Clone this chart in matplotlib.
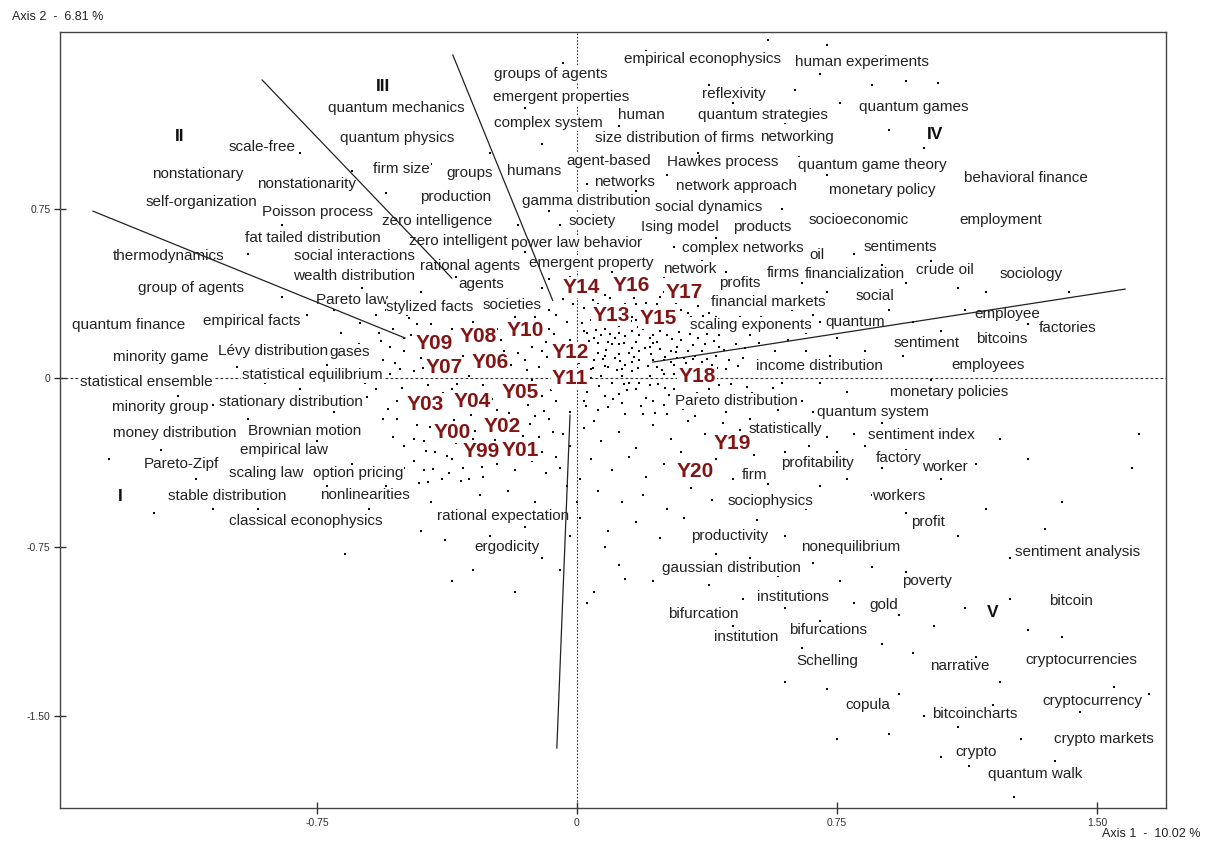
import matplotlib
matplotlib.use("Agg")
import matplotlib.pyplot as plt

# ── Correspondence analysis map: word labels (data coords) ────────────────────
words = [
    "empirical econophysics", "human experiments", "groups of agents", "reflexivity",
    "emergent properties", "quantum games", "human", "quantum strategies",
    "complex system", "size distribution of firms", "networking", "quantum mechanics",
    "quantum physics", "scale-free", "nonstationary", "nonstationarity",
    "self-organization", "Poisson process", "firm size", "groups", "humans",
    "agent-based", "Hawkes process", "quantum game theory", "behavioral finance",
    "networks", "network approach", "monetary policy", "production",
    "gamma distribution", "social dynamics", "zero intelligence", "society",
    "Ising model", "products", "socioeconomic", "employment",
    "fat tailed distribution", "zero intelligent", "power law behavior",
    "complex networks", "oil", "sentiments", "thermodynamics", "social interactions",
    "rational agents", "emergent property", "network", "firms", "financialization",
    "crude oil", "sociology", "wealth distribution", "group of agents", "agents",
    "profits", "Pareto law", "stylized facts", "societies", "financial markets",
    "social", "employee", "factories", "quantum", "bitcoins", "sentiment",
    "scaling exponents", "quantum finance", "empirical facts", "minority game",
    "Lévy distribution", "gases", "income distribution", "employees",
    "statistical ensemble", "statistical equilibrium", "monetary policies",
    "minority group", "stationary distribution", "Pareto distribution",
    "quantum system", "money distribution", "Brownian motion", "statistically",
    "sentiment index", "empirical law", "profitability", "factory", "worker",
    "Pareto-Zipf", "scaling law", "option pricing", "firm", "stable distribution",
    "nonlinearities", "sociophysics", "workers", "classical econophysics",
    "rational expectation", "profit", "productivity", "nonequilibrium",
    "sentiment analysis", "ergodicity", "gaussian distribution", "poverty",
    "institutions", "gold", "bitcoin", "bifurcation", "institution", "bifurcations",
    "Schelling", "narrative", "cryptocurrencies", "cryptocurrency", "copula",
    "bitcoincharts", "crypto markets", "crypto", "quantum walk",
]
word_x = [
    0.361, 0.822, -0.075, 0.453, -0.046, 0.972, 0.187, 0.536, -0.081, 0.283, 0.634,
    -0.522, -0.519, -0.908, -1.093, -0.779, -1.082, -0.747, -0.505, -0.309, -0.124,
    0.092, 0.421, 0.851, 1.295, 0.138, 0.461, 0.882, -0.349, 0.026, 0.381, -0.404,
    0.043, 0.297, 0.534, 0.813, 1.223, -0.761, -0.343, 0.000, 0.479, 0.692, 0.934,
    -1.177, -0.643, -0.309, 0.040, 0.326, 0.594, 0.802, 1.061, 1.309, -0.643, -1.113,
    -0.277, 0.470, -0.649, -0.424, -0.187, 0.551, 0.859, 1.240, 1.416, 0.802, 1.226,
    1.007, 0.502, -1.292, -0.937, -1.200, -0.877, -0.655, 0.698, 1.185, -1.243,
    -0.764, 1.073, -1.203, -0.825, 0.461, 0.854, -1.159, -0.784, 0.600, 0.992,
    -0.845, 0.695, 0.929, 1.061, -1.142, -0.897, -0.632, 0.513, -1.009, -0.611,
    0.557, 0.929, -0.782, -0.213, 1.012, 0.441, 0.790, 1.445, -0.202, 0.447, 1.009,
    0.623, 0.885, 1.425, 0.363, 0.487, 0.724, 0.721, 1.105, 1.456, 1.488, 0.839,
    1.148, 1.520, 1.151, 1.321,
]
word_y = [
    1.416, 1.403, 1.349, 1.261, 1.247, 1.203, 1.167, 1.167, 1.132, 1.065, 1.070,
    1.199, 1.065, 1.025, 0.906, 0.861, 0.781, 0.737, 0.928, 0.910, 0.919,
    0.963, 0.959, 0.946, 0.888, 0.870, 0.852, 0.835, 0.803, 0.786, 0.759, 0.697,
    0.697, 0.670, 0.670, 0.701, 0.701, 0.621, 0.608, 0.599, 0.577, 0.546, 0.582,
    0.542, 0.542, 0.497, 0.510, 0.484, 0.466, 0.462, 0.479, 0.462, 0.453, 0.400,
    0.417, 0.422, 0.346, 0.315, 0.324, 0.337, 0.364, 0.284, 0.222, 0.249, 0.173,
    0.155, 0.235, 0.235, 0.253, 0.093, 0.120, 0.115, 0.053, 0.058, -0.018,
    0.013, -0.062, -0.129, -0.107, -0.102, -0.151, -0.244, -0.235, -0.226, -0.253,
    -0.320, -0.377, -0.355, -0.395, -0.382, -0.422, -0.422, -0.431, -0.524, -0.519,
    -0.546, -0.524, -0.635, -0.613, -0.639, -0.701, -0.750, -0.772, -0.750, -0.843,
    -0.901, -0.972, -1.008, -0.990, -1.048, -1.150, -1.119, -1.256, -1.278, -1.252,
    -1.434, -1.452, -1.492, -1.602, -1.660, -1.758,
]

# year labels
years = ["Y14", "Y16", "Y17", "Y13", "Y15", "Y10", "Y08", "Y09", "Y12", "Y07", "Y06",
         "Y11", "Y05", "Y18", "Y03", "Y04", "Y02", "Y00", "Y99", "Y01", "Y19", "Y20"]
year_x = [0.012, 0.156, 0.309, 0.098, 0.234, -0.150, -0.286, -0.412, -0.020, -0.384,
          -0.251, -0.020, -0.164, 0.346, -0.438, -0.303, -0.216, -0.361, -0.277,
          -0.162, 0.447, 0.340]
year_y = [0.404, 0.413, 0.382, 0.280, 0.266, 0.213, 0.186, 0.155, 0.115, 0.049,
          0.067, -0.004, -0.062, 0.009, -0.115, -0.102, -0.213, -0.240, -0.328,
          -0.320, -0.289, -0.413]

# cluster numerals
clusters = ["I", "II", "III", "IV", "V"]
cluster_x = [-1.318, -1.145, -0.560, 1.032, 1.200]
cluster_y = [-0.524, 1.074, 1.292, 1.083, -1.039]

# boundary rays between clusters (x0, x1), (y0, y1)
ray_x = [(-1.396, -0.496), (-0.908, -0.361), (-0.358, -0.070), (0.219, 1.581), (-0.020, -0.058)]
ray_y = [(0.741, 0.178), (1.323, 0.444), (1.434, 0.345), (0.071, 0.395), (-0.164, -1.642)]

# background word cloud (approximate positions of the small dots)
dots = [
    # dense core right of origin
    (0.02, 0.31), (0.05, 0.18), (0.08, 0.37), (0.11, 0.09), (0.13, 0.24), (0.16, 0.03), (0.19, 0.29),
    (0.21, 0.14), (0.24, 0.36), (0.27, 0.07), (0.29, 0.25), (0.32, 0.12), (0.35, 0.32), (0.38, 0.02),
    (0.41, 0.19), (0.44, 0.08), (0.47, 0.27), (0.03, -0.06), (0.06, 0.11), (0.09, -0.13), (0.12, 0.20),
    (0.15, -0.02), (0.17, 0.16), (0.20, -0.09), (0.23, 0.05), (0.26, 0.19), (0.28, -0.05), (0.31, 0.03),
    (0.34, 0.21), (0.37, -0.08), (0.40, 0.10), (0.43, -0.15), (0.46, 0.15), (0.49, -0.04), (0.01, 0.13),
    (0.04, 0.26), (0.07, 0.01), (0.10, 0.15), (0.14, 0.33), (0.18, 0.08), (0.22, 0.27), (0.25, -0.12),
    (0.30, 0.17), (0.33, -0.11), (0.36, 0.07), (0.39, 0.24), (0.42, 0.31), (0.45, -0.07), (0.48, 0.09),
    (0.00, -0.02), (0.05, -0.19), (0.08, 0.22), (0.12, -0.07), (0.15, 0.11), (0.19, -0.16), (0.22, 0.19),
    (0.26, 0.30), (0.29, 0.09), (0.33, 0.27), (0.37, 0.15), (0.41, -0.03), (0.44, 0.22), (0.11, 0.28),
    (0.16, 0.21), (0.21, 0.01), (0.24, 0.13), (0.27, 0.23), (0.31, -0.02), (0.35, 0.04), (0.14, 0.06),
    (0.18, 0.12), (0.23, 0.33), (0.09, 0.05), (0.06, 0.33), (0.03, 0.09), (0.13, -0.11), (0.17, -0.05),
    (0.20, 0.23), (0.28, 0.02), (0.32, 0.35), (0.38, 0.29), (0.43, 0.04), (0.47, -0.12), (0.50, 0.19),
    (0.52, 0.05), (0.55, -0.09), (0.53, 0.27), (0.57, 0.12), (0.59, -0.02), (0.61, 0.17), (0.25, 0.38),
    (0.19, 0.37), (0.30, 0.38), (0.10, 0.40), (0.36, 0.37), (0.04, 0.04), (0.27, 0.12), (0.22, 0.08),
    (0.16, 0.27), (0.12, 0.15), (0.07, 0.19), (0.02, 0.21), (0.13, 0.01), (0.18, 0.19), (0.25, 0.08),
    (0.30, 0.30), (0.34, 0.10), (0.08, -0.08), (0.17, 0.33), (0.21, -0.03),
    (0.015, 0.245), (0.035, 0.165), (0.055, 0.285), (0.075, 0.085), (0.095, 0.195), (0.115, 0.035),
    (0.135, 0.155), (0.155, 0.255), (0.175, 0.045), (0.195, 0.135), (0.215, 0.235), (0.235, -0.025),
    (0.255, 0.095), (0.275, 0.175), (0.295, -0.085), (0.315, 0.065), (0.335, 0.145), (0.355, -0.035),
    (0.375, 0.085), (0.395, 0.165), (0.025, -0.125), (0.045, 0.045), (0.065, -0.035), (0.085, 0.125),
    (0.105, -0.095), (0.125, 0.075), (0.145, -0.055), (0.165, 0.095), (0.185, -0.125), (0.205, 0.055),
    (0.225, -0.155), (0.245, 0.035), (0.265, -0.075), (0.285, 0.115), (0.305, -0.135), (0.325, 0.025),
    (0.345, -0.065), (0.365, 0.235), (0.385, -0.125), (0.405, 0.045), (0.005, 0.065), (0.045, 0.345),
    (0.085, 0.275), (0.125, 0.315), (0.165, 0.355), (0.205, 0.305), (0.245, 0.265), (0.285, 0.335),
    (0.325, 0.195), (0.365, 0.275), (0.015, -0.045), (0.055, 0.215), (0.095, 0.355), (0.135, -0.025),
    (0.175, 0.225), (0.215, 0.105), (0.255, -0.045), (0.295, 0.205), (0.335, 0.085), (0.375, 0.195),
    (0.425, 0.125), (0.445, -0.025), (0.465, 0.055), (0.485, 0.135), (0.505, -0.065), (0.525, 0.155),
    (0.545, 0.035), (0.565, -0.045), (0.585, 0.075), (0.605, 0.025), (0.06, 0.155), (0.10, 0.245),
    (0.14, 0.185), (0.18, 0.285), (0.22, 0.155), (0.26, 0.225), (0.20, 0.335), (0.16, 0.135),
    (0.12, 0.105), (0.08, 0.055),
    (0.03, 0.20), (0.07, 0.29), (0.11, 0.18), (0.15, 0.30), (0.19, 0.22), (0.23, 0.16), (0.27, 0.28),
    (0.31, 0.09), (0.35, 0.18), (0.39, 0.06), (0.05, 0.08), (0.09, 0.16), (0.13, 0.04), (0.17, 0.26),
    (0.21, 0.18), (0.25, 0.02), (0.29, 0.14), (0.33, 0.22), (0.37, 0.03), (0.41, 0.14), (0.02, -0.10),
    (0.06, -0.14), (0.10, -0.02), (0.14, -0.16), (0.18, -0.02), (0.22, -0.10), (0.26, -0.16),
    (0.30, -0.08), (0.34, -0.17), (0.38, -0.05), (0.04, 0.00), (0.08, 0.10), (0.12, 0.23), (0.16, 0.07),
    (0.20, 0.28), (0.24, 0.21), (0.28, 0.06), (0.32, 0.29), (0.36, 0.12), (0.40, 0.27),
    # below the core
    (0.02, -0.22), (0.07, -0.28), (0.12, -0.24), (0.17, -0.31), (0.22, -0.21), (0.27, -0.27), (0.32, -0.19),
    (0.37, -0.25), (0.42, -0.20), (0.47, -0.23), (0.04, -0.36), (0.10, -0.41), (0.15, -0.35), (0.20, -0.44),
    (0.25, -0.38), (0.30, -0.33), (0.35, -0.42), (0.40, -0.36), (0.45, -0.45), (0.51, -0.34), (0.06, -0.50),
    (0.13, -0.55), (0.19, -0.52), (0.26, -0.58), (0.33, -0.49), (0.39, -0.54), (0.47, -0.52), (0.55, -0.47),
    (0.60, -0.33), (0.58, -0.14), (0.01, -0.62), (0.09, -0.68), (0.17, -0.64), (0.24, -0.71), (0.31, -0.62),
    (0.37, -0.67), (0.52, -0.63), (0.60, -0.70), (0.66, -0.58), (0.70, -0.48),
    # left cluster behind the year labels
    (-0.06, 0.28), (-0.09, 0.16), (-0.12, 0.31), (-0.15, 0.08), (-0.18, 0.27), (-0.21, 0.12), (-0.24, 0.30),
    (-0.27, 0.05), (-0.30, 0.25), (-0.33, 0.10), (-0.36, 0.22), (-0.39, 0.02), (-0.42, 0.24), (-0.45, 0.09),
    (-0.48, 0.19), (-0.51, 0.04), (-0.54, 0.14), (-0.07, 0.02), (-0.10, -0.08), (-0.13, 0.14), (-0.16, -0.03),
    (-0.19, 0.20), (-0.22, -0.06), (-0.25, 0.15), (-0.28, -0.12), (-0.31, 0.01), (-0.34, -0.09), (-0.37, 0.12),
    (-0.40, -0.16), (-0.43, -0.03), (-0.46, -0.21), (-0.49, -0.08), (-0.52, -0.18), (-0.08, -0.18),
    (-0.11, -0.26), (-0.14, -0.12), (-0.17, -0.22), (-0.20, -0.30), (-0.23, -0.14), (-0.26, -0.24),
    (-0.29, -0.35), (-0.32, -0.20), (-0.35, -0.29), (-0.38, -0.25), (-0.41, -0.33), (-0.44, -0.28),
    (-0.47, -0.37), (-0.50, -0.30), (-0.53, -0.26), (-0.06, -0.35), (-0.09, -0.42), (-0.13, -0.37),
    (-0.18, -0.41), (-0.23, -0.38), (-0.27, -0.44), (-0.33, -0.40), (-0.39, -0.45), (-0.44, -0.41),
    (-0.05, 0.12), (-0.08, 0.22), (-0.11, 0.05), (-0.14, 0.21), (-0.17, 0.11), (-0.20, 0.03), (-0.23, 0.22),
    (-0.26, 0.10), (-0.29, 0.17), (-0.32, 0.29), (-0.35, 0.05), (-0.38, 0.18), (-0.41, 0.07), (-0.44, 0.16),
    (-0.47, 0.03), (-0.50, 0.12), (-0.53, 0.22), (-0.56, 0.08), (-0.58, -0.05), (-0.57, 0.20), (-0.60, 0.12),
    (-0.62, 0.02), (-0.06, -0.10), (-0.12, -0.17), (-0.15, -0.30), (-0.21, -0.20), (-0.24, 0.06),
    (-0.27, -0.03), (-0.36, -0.05), (-0.30, -0.08), (-0.42, -0.10), (-0.48, -0.14),
    (-0.065, 0.195), (-0.085, 0.095), (-0.105, 0.255), (-0.125, -0.045), (-0.145, 0.035), (-0.165, 0.175),
    (-0.185, -0.085), (-0.205, 0.245), (-0.225, 0.085), (-0.245, -0.095), (-0.265, 0.205), (-0.285, 0.025),
    (-0.305, -0.165), (-0.325, 0.145), (-0.345, -0.025), (-0.365, 0.285), (-0.385, -0.065), (-0.405, 0.115),
    (-0.425, -0.215), (-0.445, 0.045), (-0.465, -0.115), (-0.485, 0.265), (-0.505, -0.045), (-0.525, 0.065),
    (-0.545, -0.135), (-0.565, 0.165), (-0.585, 0.035), (-0.605, -0.085), (-0.625, 0.245), (-0.645, 0.085),
    (-0.075, -0.055), (-0.095, -0.145), (-0.115, -0.325), (-0.135, -0.205), (-0.155, -0.255),
    (-0.175, -0.345), (-0.195, -0.155), (-0.215, -0.365), (-0.235, -0.275), (-0.255, -0.175),
    (-0.275, -0.395), (-0.295, -0.235), (-0.315, -0.305), (-0.335, -0.455), (-0.355, -0.185),
    (-0.375, -0.345), (-0.395, -0.275), (-0.415, -0.405), (-0.435, -0.325), (-0.455, -0.465),
    (-0.02, 0.17), (-0.03, 0.08), (-0.04, -0.03), (-0.02, -0.15), (-0.04, -0.25), (-0.03, 0.25),
    (-0.01, 0.33), (-0.05, -0.40), (-0.02, -0.30), (-0.04, 0.35),
    (-0.46, 0.24), (-0.50, 0.18), (-0.54, 0.02), (-0.52, -0.10), (-0.56, -0.18), (-0.58, 0.28),
    (-0.61, -0.02), (-0.63, 0.15), (-0.49, 0.28), (-0.55, 0.30), (-0.08, 0.30), (-0.10, 0.12),
    (-0.13, -0.01), (-0.07, -0.24), (-0.10, -0.33), (-0.12, 0.27), (-0.16, 0.24), (-0.19, 0.06),
    (-0.22, 0.17), (-0.07, 0.09), (-0.30, -0.27), (-0.26, -0.32), (-0.22, -0.25), (-0.36, -0.36),
    (-0.40, -0.22), (-0.47, -0.27), (-0.50, -0.40), (-0.43, -0.46), (-0.37, -0.42), (-0.31, -0.45),
    # vertical column near the origin
    (-0.04, 0.38), (-0.02, 0.45), (-0.06, 0.52), (0.01, 0.57), (-0.03, 0.63), (-0.08, 0.44), (0.00, 0.49),
    (-0.05, 0.68), (-0.10, 0.40), (0.02, 0.42), (-0.03, -0.48), (0.00, -0.55), (-0.05, -0.62),
    (0.01, -0.45), (-0.02, -0.70),
    # upper middle, sparse
    (-0.35, 0.45), (-0.22, 0.48), (-0.15, 0.56), (-0.27, 0.62), (-0.17, 0.68), (-0.08, 0.74), (0.10, 0.47),
    (0.18, 0.52), (0.25, 0.45), (0.13, 0.62), (0.20, 0.69), (0.28, 0.58), (0.36, 0.52), (0.43, 0.47),
    (0.40, 0.62), (0.48, 0.66), (0.55, 0.55), (0.62, 0.61), (0.67, 0.72), (0.59, 0.75), (0.10, 0.78),
    (0.17, 0.83), (0.26, 0.90), (0.33, 0.79), (0.03, 0.86), (-0.05, 0.95), (-0.10, 1.04), (0.35, 1.00),
    (0.48, 0.93), (0.57, 0.87), (0.64, 0.98), (0.70, 1.04), (0.72, 0.90), (0.60, 1.13), (0.45, 1.22),
    (0.38, 1.30), (0.63, 1.28), (0.70, 1.35), (0.76, 1.22), (0.85, 1.30), (0.95, 1.32), (1.04, 1.31),
    (0.90, 1.10), (1.00, 1.02), (0.55, 1.50), (0.72, 1.48), (0.20, 1.45), (-0.15, 1.20), (-0.04, 1.40),
    (0.12, 1.12),
    # right side
    (0.65, 0.42), (0.72, 0.38), (0.80, 0.55), (0.88, 0.50), (0.95, 0.42), (1.02, 0.52), (1.10, 0.40),
    (1.18, 0.38), (0.68, 0.28), (0.75, 0.18), (0.83, 0.12), (0.90, 0.30), (0.97, 0.25), (1.05, 0.21),
    (1.12, 0.30), (0.62, 0.08), (0.70, -0.02), (0.78, -0.06), (0.86, 0.03), (0.94, 0.10), (1.02, -0.01),
    (0.65, -0.10), (0.72, -0.17), (0.80, -0.25), (0.88, -0.20), (0.95, -0.32), (0.62, -0.22), (0.67, -0.30),
    (0.75, -0.33), (0.83, -0.30), (0.88, -0.40), (0.78, -0.45), (0.85, -0.52), (0.95, -0.60), (1.05, -0.45),
    (1.15, -0.38), (1.22, -0.27), (1.30, -0.36), (1.40, -0.55), (1.18, -0.58), (1.10, -0.70), (1.25, -0.80),
    (1.35, -0.67), (1.62, -0.25), (1.60, -0.40), (1.42, 0.38), (1.30, 0.24), (0.73, 0.10), (0.66, 0.20),
    (0.92, -0.12), (0.62, 0.30), (0.66, 0.12), (0.70, 0.25), (0.74, 0.04), (0.63, -0.07), (0.68, -0.15),
    (0.72, -0.26), (0.55, -0.22), (0.50, -0.18), (0.57, 0.34),
    # lower right
    (0.40, -0.78), (0.50, -0.80), (0.58, -0.88), (0.68, -0.82), (0.76, -0.90), (0.85, -0.84), (0.95, -0.86),
    (0.38, -0.92), (0.48, -0.98), (0.60, -1.02), (0.70, -1.08), (0.80, -1.00), (0.93, -1.05), (1.03, -1.10),
    (1.12, -1.02), (1.25, -0.98), (1.30, -1.12), (1.40, -1.15), (0.55, -1.15), (0.65, -1.20), (0.78, -1.25),
    (0.88, -1.18), (0.97, -1.22), (1.05, -1.30), (1.15, -1.24), (1.22, -1.35), (1.32, -1.28), (1.55, -1.37),
    (0.60, -1.35), (0.72, -1.38), (0.82, -1.42), (0.93, -1.40), (1.00, -1.50), (1.10, -1.55), (1.20, -1.45),
    (1.28, -1.60), (0.75, -1.60), (0.90, -1.58), (1.05, -1.68), (1.13, -1.72), (1.22, -1.78), (1.26, -1.86),
    (1.38, -1.70), (1.65, -1.40), (1.45, -1.48), (0.45, -1.10), (0.30, -0.85), (0.22, -0.90), (0.12, -0.83),
    (0.05, -0.95),
    # upper left
    (-0.45, 0.38), (-0.55, 0.42), (-0.62, 0.40), (-0.70, 0.30), (-0.78, 0.28), (-0.85, 0.36), (-0.60, 0.55),
    (-0.72, 0.60), (-0.85, 0.68), (-0.95, 0.55), (-0.50, 0.70), (-0.55, 0.82), (-0.65, 0.92), (-0.42, 0.95),
    (-0.30, 0.80), (-0.25, 1.00), (-0.80, 1.00), (-0.98, 0.90),
    # middle left
    (-0.68, 0.20), (-0.72, 0.06), (-0.80, -0.05), (-0.90, -0.02), (-0.98, 0.05), (-1.05, -0.12),
    (-1.15, -0.08), (-1.28, -0.22), (-0.70, -0.15), (-0.75, -0.28), (-0.88, -0.30), (-0.95, -0.18),
    (-1.00, -0.40), (-1.10, -0.45), (-1.20, -0.32), (-0.65, -0.38), (-0.72, -0.48), (-0.85, -0.52),
    (-0.92, -0.58), (-1.05, -0.58), (-1.22, -0.60), (-0.60, -0.58), (-0.55, -0.48), (-0.67, -0.78),
    (-1.35, -0.36),
    # lower middle
    (-0.50, -0.50), (-0.42, -0.55), (-0.35, -0.60), (-0.28, -0.52), (-0.20, -0.50), (-0.12, -0.55),
    (-0.45, -0.68), (-0.38, -0.72), (-0.25, -0.70), (-0.15, -0.66), (-0.10, -0.80), (-0.30, -0.85),
    (-0.36, -0.90), (-0.05, -0.85), (0.08, -0.75), (0.14, -0.89), (-0.18, -0.95), (0.03, -1.00),
]
dot_x = [p[0] for p in dots]
dot_y = [p[1] for p in dots]

xticks = [-0.75, 0, 0.75, 1.5]
xtick_labels = ["-0.75", "0", "0.75", "1.50"]
yticks = [-1.5, -0.75, 0, 0.75]
ytick_labels = ["-1.50", "-0.75", "0", "0.75"]

plt.rcParams["font.family"] = ["Liberation Sans", "DejaVu Sans"]

fig = plt.figure(figsize=(12.07, 8.43), dpi=100)
ax = fig.add_axes([60 / 1207, 1 - 808 / 843, 1106 / 1207, 776 / 843])
ax.set_xlim(-1.491, 1.699)
ax.set_ylim(-1.908, 1.536)

ax.scatter(dot_x, dot_y, s=3.2, c="black", marker="s", linewidths=0, zorder=1)

ax.axhline(0, color="#333333", lw=0.8, ls=(0, (2.5, 2)), zorder=2)
ax.axvline(0, color="#333333", lw=0.8, ls=(0, (1.5, 1.5)), zorder=2)

box = dict(boxstyle="square,pad=0.05", fc="white", ec="none")
for w, x, y in zip(words, word_x, word_y):
    ax.text(x, y, w, ha="center", va="center", fontsize=11, color="#222222",
            bbox=box, zorder=3)

for w, x, y in zip(years, year_x, year_y):
    ax.text(x, y, w, ha="center", va="center", fontsize=15, fontweight="bold",
            color="#821414", bbox=box, zorder=4)

for w, x, y in zip(clusters, cluster_x, cluster_y):
    ax.text(x, y, w, ha="center", va="center", fontsize=12.5, fontweight="bold",
            color="#111111", zorder=4)

for xs, ys in zip(ray_x, ray_y):
    ax.plot(xs, ys, color="#222222", lw=0.9, zorder=5)

for s in ax.spines.values():
    s.set_color("#444444")
    s.set_linewidth(1.0)
ax.set_xticks(xticks)
ax.set_xticklabels(xtick_labels)
ax.set_yticks(yticks)
ax.set_yticklabels(ytick_labels)
ax.tick_params(direction="inout", length=8, width=1, colors="#333333",
               labelsize=7.5, pad=3)

fig.text(12 / 1207, 1 - 17 / 843, "Axis 2  -  6.81 %", fontsize=9, color="#222222",
         ha="left", va="center")
fig.text(1200 / 1207, 1 - 834 / 843, "Axis 1  -  10.02 %", fontsize=9, color="#222222",
         ha="right", va="center")

fig.savefig("out.png", dpi=100)
